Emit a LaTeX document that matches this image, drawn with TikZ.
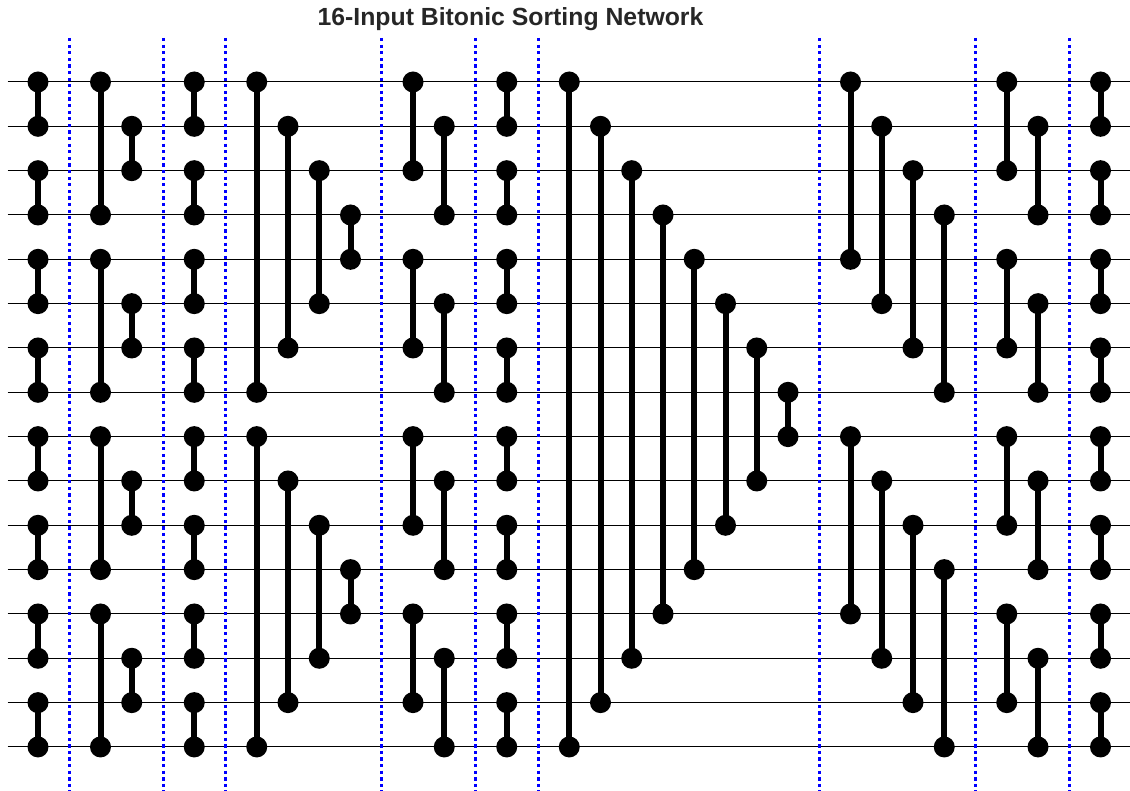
\documentclass[tikz,border=0pt]{standalone}
\usepackage{fontspec}
\setmainfont{Liberation Sans}
\begin{document}
\begin{tikzpicture}[x=1pt,y=-1pt,
  wire/.style={black,line width=1pt},
  sep/.style={blue,line width=3pt,dash pattern=on 3.3pt off 3.3pt},
  cmp/.style={black,line width=6pt},
  dot/.style={circle,fill=black,inner sep=0pt,minimum size=21pt}]
\useasboundingbox (0,0) rectangle (1130,791);
\node[font=\bfseries\fontsize{24.8}{26}\selectfont,text=black!85] (title) at (510.5,19.5) {16-Input Bitonic Sorting Network};
% wires
\foreach \i in {0,...,15}{
  \coordinate (wl\i) at (7.5,82+\i*44.33);
  \coordinate (wr\i) at (1130,82+\i*44.33);
  \draw[wire] (wl\i) -- (wr\i);
}
% separators
\foreach \k in {1,4,6,11,14,16,25,30,33}{
  \coordinate (st\k) at (38+\k*31.25,38);
  \coordinate (sb\k) at (38+\k*31.25,791);
  \draw[sep] (st\k) -- (sb\k);
}
% comparators: column k, rows a,b
\foreach \k/\a/\b in {
 0/0/1,0/2/3,0/4/5,0/6/7,0/8/9,0/10/11,0/12/13,0/14/15,
 2/0/3,2/4/7,2/8/11,2/12/15,
 3/1/2,3/5/6,3/9/10,3/13/14,
 5/0/1,5/2/3,5/4/5,5/6/7,5/8/9,5/10/11,5/12/13,5/14/15,
 7/0/7,7/8/15,
 8/1/6,8/9/14,
 9/2/5,9/10/13,
 10/3/4,10/11/12,
 12/0/2,12/4/6,12/8/10,12/12/14,
 13/1/3,13/5/7,13/9/11,13/13/15,
 15/0/1,15/2/3,15/4/5,15/6/7,15/8/9,15/10/11,15/12/13,15/14/15,
 17/0/15,18/1/14,19/2/13,20/3/12,21/4/11,22/5/10,23/6/9,24/7/8,
 26/0/4,26/8/12,
 27/1/5,27/9/13,
 28/2/6,28/10/14,
 29/3/7,29/11/15,
 31/0/2,31/4/6,31/8/10,31/12/14,
 32/1/3,32/5/7,32/9/11,32/13/15,
 34/0/1,34/2/3,34/4/5,34/6/7,34/8/9,34/10/11,34/12/13,34/14/15}{
  \node[dot] (c\k a\a) at (38+\k*31.25,82+\a*44.33) {};
  \node[dot] (c\k b\b) at (38+\k*31.25,82+\b*44.33) {};
  \draw[cmp] (c\k a\a.center) -- (c\k b\b.center);
}
\end{tikzpicture}
\end{document}
